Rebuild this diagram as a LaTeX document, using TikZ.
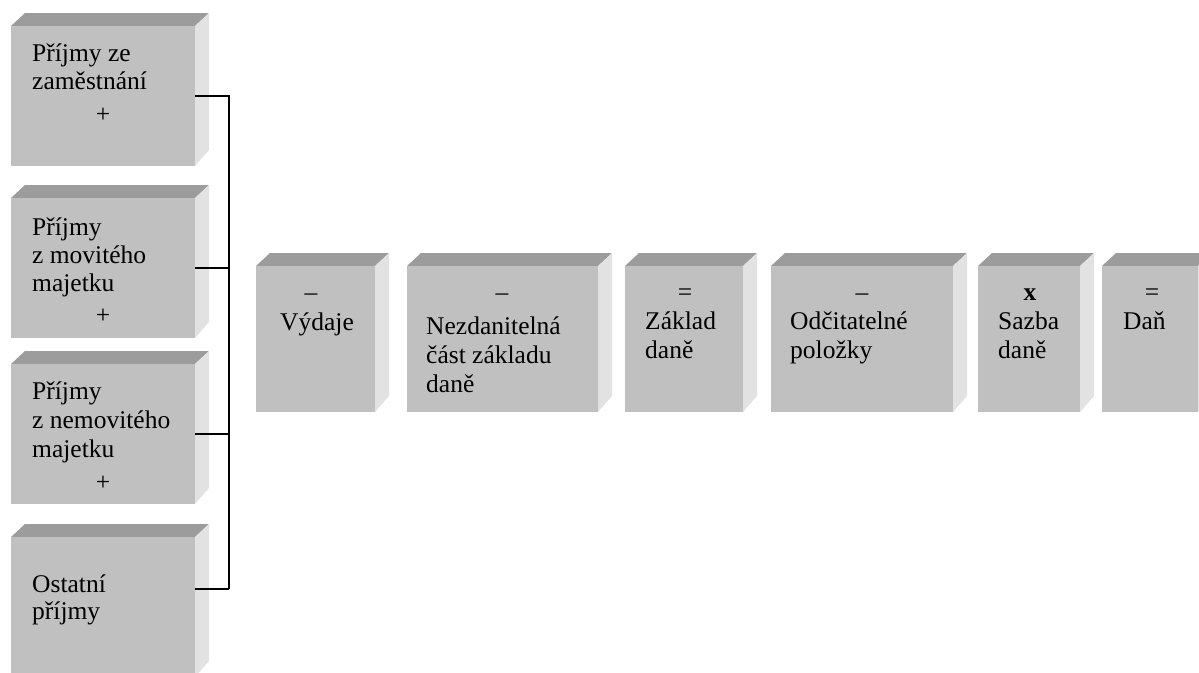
\documentclass[tikz,border=0pt]{standalone}
\usepackage{fontspec}
\setmainfont{Liberation Serif}
\usepackage{xcolor}
\usetikzlibrary{positioning, calc}
\definecolor{boxfront}{HTML}{C0C0C0}
\definecolor{boxtop}{HTML}{9C9C9C}
\definecolor{boxside}{HTML}{E2E2E2}
\tikzstyle{celo} = [fill=boxfront, inner sep=0pt, outer sep=0pt]
\tikzstyle{vrch} = [fill=boxtop]
\tikzstyle{bok} = [fill=boxside]
\tikzstyle{popis} = [font=\fontsize{25.5}{28}\selectfont, anchor=base west, inner sep=0pt]
\tikzstyle{znak} = [font=\fontsize{25.5}{28}\selectfont, anchor=base, inner sep=0pt]
\tikzstyle{spoj} = [line width=2pt]
% 3D box: name, x1, y1, x2, y2 of the front face
\newcommand{\kvadr}[5]{%
  \fill[vrch] (#2,#3) -- ++(14,-13) -- (#4+14,#3-13) -- (#4,#3) -- cycle;
  \fill[bok] (#4,#3) -- (#4+14,#3-13) -- (#4+14,#5-16) -- (#4,#5) -- cycle;
  \node[celo, minimum width={(#4-#2)*1pt}, minimum height={(#5-#3)*1pt}] (#1) at ({(#2+#4)/2},{(#3+#5)/2}) {};
}

\begin{document}
\begin{tikzpicture}[x=1pt, y=-1pt]
    \useasboundingbox (0,0) rectangle (1199,672);
    \clip (0,0) rectangle (1199,672);

    % Income boxes
    \kvadr{p1}{11}{26}{195}{166}
    \kvadr{p2}{11}{198}{195}{338}
    \kvadr{p3}{11}{364}{195}{504}
    \kvadr{p4}{11}{537}{195}{677}

    \node[popis] (p1a) at (32,61) {Příjmy ze};
    \node[popis] (p1b) at (32,89) {zaměstnání};
    \node[znak] (p1c) at (103,122) {+};

    \node[popis] (p2a) at (32,235) {Příjmy};
    \node[popis] (p2b) at (32,263) {z movitého};
    \node[popis] (p2c) at (32,291) {majetku};
    \node[znak] (p2d) at (103,323) {+};

    \node[popis] (p3a) at (32,399) {Příjmy};
    \node[popis] (p3b) at (32,428) {z nemovitého};
    \node[popis] (p3c) at (32,457) {majetku};
    \node[znak] (p3d) at (103,490) {+};

    \node[popis] (p4a) at (32,592) {Ostatní};
    \node[popis] (p4b) at (32,619) {příjmy};

    % Bracket joining the incomes
    \coordinate (s4) at (229,589);
    \draw[spoj] (p1.east) -| (s4);
    \draw[spoj] (p2.east) -- (p2.east -| s4);
    \draw[spoj] (p3.east) -- (p3.east -| s4);
    \draw[spoj] (p4.east |- s4) -- (s4);

    % Calculation boxes
    \kvadr{vydaje}{256}{266}{375}{412}
    \kvadr{nezdan}{407}{266}{598}{412}
    \kvadr{zaklad}{625}{266}{743}{412}
    \kvadr{odcit}{771}{266}{953}{412}
    \kvadr{sazba}{978}{266}{1080}{412}
    \kvadr{dan}{1102}{266}{1198}{412}

    \node[znak] (vydaje1) at (311,300) {–};
    \node[popis] (vydaje2) at (280,330) {Výdaje};

    \node[znak] (nezdan1) at (502,300) {–};
    \node[popis] (nezdan2) at (426,334) {Nezdanitelná};
    \node[popis] (nezdan3) at (426,363) {část základu};
    \node[popis] (nezdan4) at (426,392) {daně};

    \node[znak] (zaklad1) at (685,300) {=};
    \node[popis] (zaklad2) at (645,329) {Základ};
    \node[popis] (zaklad3) at (645,358) {daně};

    \node[znak] (odcit1) at (862,300) {–};
    \node[popis] (odcit2) at (790,329) {Odčitatelné};
    \node[popis] (odcit3) at (790,358) {položky};

    \node[znak] (sazba1) at (1030,300) {\textbf{x}};
    \node[popis] (sazba2) at (998,329) {Sazba};
    \node[popis] (sazba3) at (998,358) {daně};

    \node[znak] (dan1) at (1152,300) {=};
    \node[popis] (dan2) at (1123,329) {Daň};
\end{tikzpicture}
\end{document}
